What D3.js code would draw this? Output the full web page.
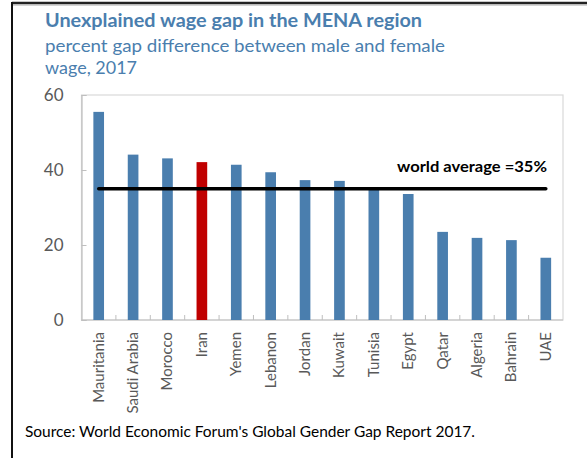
<!DOCTYPE html>
<html>
<head>
<meta charset="utf-8">
<script src="https://cdn.jsdelivr.net/npm/d3@7"></script>
<style>
  html, body { margin: 0; padding: 0; background: #fff; }
  svg { display: block; }
</style>
</head>
<body>
<svg id="chart" width="587" height="458"></svg>
<script>
const categories = ["Mauritania","Saudi Arabia","Morocco","Iran","Yemen","Lebanon","Jordan","Kuwait","Tunisia","Egypt","Qatar","Algeria","Bahrain","UAE"];
const values = [55.5, 44.1, 43.1, 42.1, 41.4, 39.4, 37.3, 37.1, 34.7, 33.6, 23.5, 21.9, 21.3, 16.6];
const highlight = ["Iran"];
const worldAverage = 35;
const yTicks = [0, 20, 40, 60];

const title = "Unexplained wage gap in the MENA region";
const subtitle1 = "percent gap difference between male and female";
const subtitle2 = "wage, 2017";
const avgLabel = "world average =35%";
const source = "Source: World Economic Forum's Global Gender Gap Report 2017.";

const svg = d3.select("#chart");
const font = "Lato, 'Open Sans', sans-serif";
const blue = "#4a7eae";
const red = "#c00000";
const titleColor = "#4a7eae";

const plot = {left: 81.5, right: 563, top: 95, bottom: 320};

const x = d3.scaleBand().domain(categories).range([plot.left, plot.right])
  .paddingInner(0.69).paddingOuter(0.345);
const y = d3.scaleLinear().domain([0, 60]).range([plot.bottom, plot.top]);

// frame
svg.append("line").attr("x1", 12).attr("x2", 587).attr("y1", 3).attr("y2", 3)
  .attr("stroke", "#222").attr("stroke-width", 2.5);
svg.append("line").attr("x1", 12).attr("x2", 587).attr("y1", 5).attr("y2", 5)
  .attr("stroke", "#aaa").attr("stroke-width", 1);
svg.append("line").attr("x1", 12).attr("x2", 12).attr("y1", 2).attr("y2", 458)
  .attr("stroke", "#111").attr("stroke-width", 2);

// titles
svg.append("text").attr("x", 45).attr("y", 27).text(title)
  .attr("font-family", font).attr("font-weight", "bold").attr("font-size", 19)
  .attr("fill", titleColor).attr("textLength", 377).attr("lengthAdjust", "spacingAndGlyphs");
svg.append("text").attr("x", 45).attr("y", 52).text(subtitle1)
  .attr("font-family", font).attr("font-size", 18)
  .attr("fill", titleColor).attr("textLength", 400).attr("lengthAdjust", "spacingAndGlyphs");
svg.append("text").attr("x", 45).attr("y", 74).text(subtitle2)
  .attr("font-family", font).attr("font-size", 18)
  .attr("fill", titleColor).attr("textLength", 92).attr("lengthAdjust", "spacingAndGlyphs");

// plot border
svg.append("rect").attr("x", plot.left).attr("y", plot.top)
  .attr("width", plot.right - plot.left).attr("height", plot.bottom - plot.top)
  .attr("fill", "none").attr("stroke", "#d9d9d9").attr("stroke-width", 1.2);

// y axis
const yAxis = svg.append("g").attr("transform", `translate(${plot.left},0)`)
  .call(d3.axisLeft(y).tickValues(yTicks).tickSize(-5).tickPadding(18).tickFormat(d3.format("d")));
yAxis.select(".domain").attr("stroke", "#bfbfbf").attr("stroke-width", 1.2);
yAxis.selectAll(".tick line").attr("stroke", "#bfbfbf");
yAxis.selectAll("text").attr("font-family", font).attr("font-size", 17).attr("fill", "#595959")
  .attr("dy", "0.3em");

// x axis ticks at category boundaries
const step = x.step();
const bounds = categories.slice(1).map(c => x(c) - x.paddingInner() * step / 2);
svg.append("line").attr("x1", plot.left).attr("x2", plot.right).attr("y1", plot.bottom).attr("y2", plot.bottom)
  .attr("stroke", "#bfbfbf").attr("stroke-width", 1.2);
svg.append("g").selectAll("line").data(bounds).join("line")
  .attr("x1", d => d).attr("x2", d => d).attr("y1", plot.bottom).attr("y2", plot.bottom - 5)
  .attr("stroke", "#bfbfbf");

// bars
svg.append("g").selectAll("rect").data(categories).join("rect")
  .attr("x", d => x(d)).attr("width", x.bandwidth())
  .attr("y", (d, i) => y(values[i])).attr("height", (d, i) => y(0) - y(values[i]))
  .attr("fill", d => highlight.includes(d) ? red : blue);

// x labels
svg.append("g").selectAll("text").data(categories).join("text")
  .attr("transform", d => `translate(${x(d) + x.bandwidth() / 2 + 5},332) rotate(-90)`)
  .attr("text-anchor", "end").text(d => d)
  .attr("font-family", font).attr("font-size", 15).attr("fill", "#595959");

// world average line
svg.append("line")
  .attr("x1", x(categories[0]) + x.bandwidth() / 2)
  .attr("x2", x(categories[categories.length - 1]) + x.bandwidth() / 2)
  .attr("y1", y(worldAverage)).attr("y2", y(worldAverage))
  .attr("stroke", "#000").attr("stroke-width", 3.5).attr("stroke-linecap", "round");
svg.append("text").attr("x", 547).attr("y", 172).attr("text-anchor", "end").text(avgLabel)
  .attr("font-family", font).attr("font-weight", "bold").attr("font-size", 16).attr("fill", "#000")
  .attr("textLength", 150).attr("lengthAdjust", "spacingAndGlyphs");

// source
svg.append("text").attr("x", 25).attr("y", 437).text(source)
  .attr("font-family", font).attr("font-size", 15).attr("fill", "#000")
  .attr("textLength", 450).attr("lengthAdjust", "spacingAndGlyphs");
</script>
</body>
</html>
